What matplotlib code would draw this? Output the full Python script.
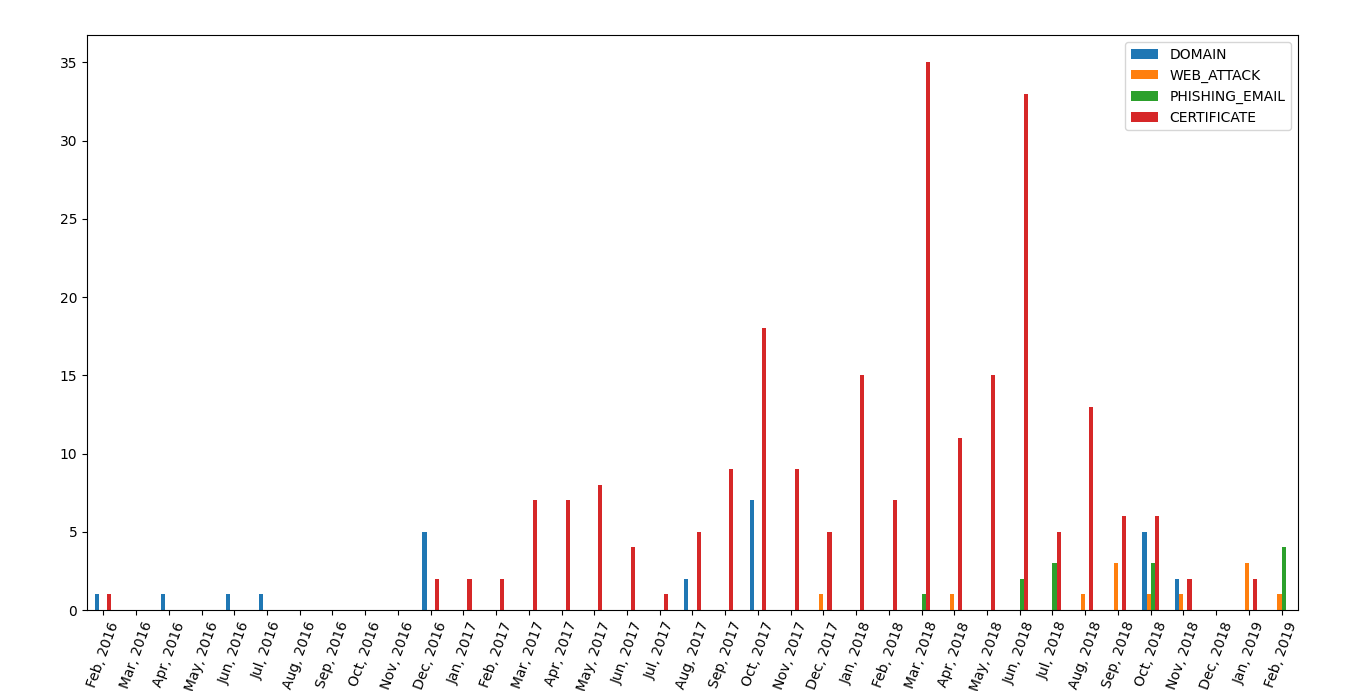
import numpy as np
import pandas as pd
import matplotlib
matplotlib.use("Agg")
import matplotlib.pyplot as plt

months = ["Feb, 2016", "Mar, 2016", "Apr, 2016", "May, 2016", "Jun, 2016", "Jul, 2016",
          "Aug, 2016", "Sep, 2016", "Oct, 2016", "Nov, 2016", "Dec, 2016",
          "Jan, 2017", "Feb, 2017", "Mar, 2017", "Apr, 2017", "May, 2017", "Jun, 2017",
          "Jul, 2017", "Aug, 2017", "Sep, 2017", "Oct, 2017", "Nov, 2017", "Dec, 2017",
          "Jan, 2018", "Feb, 2018", "Mar, 2018", "Apr, 2018", "May, 2018", "Jun, 2018",
          "Jul, 2018", "Aug, 2018", "Sep, 2018", "Oct, 2018", "Nov, 2018", "Dec, 2018",
          "Jan, 2019", "Feb, 2019"]

domain = [1, 0, 1, 0, 1, 1, 0, 0, 0, 0, 5,
          0, 0, 0, 0, 0, 0, 0, 2, 0, 7, 0, 0,
          0, 0, 0, 0, 0, 0, 0, 0, 0, 5, 2, 0,
          0, 0]
web_attack = [0, 0, 0, 0, 0, 0, 0, 0, 0, 0, 0,
              0, 0, 0, 0, 0, 0, 0, 0, 0, 0, 0, 1,
              0, 0, 0, 1, 0, 0, 0, 1, 3, 1, 1, 0,
              3, 1]
phishing_email = [0, 0, 0, 0, 0, 0, 0, 0, 0, 0, 0,
                  0, 0, 0, 0, 0, 0, 0, 0, 0, 0, 0, 0,
                  0, 0, 1, 0, 0, 2, 3, 0, 0, 3, 0, 0,
                  0, 4]
certificate = [1, 0, 0, 0, 0, 0, 0, 0, 0, 0, 2,
               2, 2, 7, 7, 8, 4, 1, 5, 9, 18, 9, 5,
               15, 7, 35, 11, 15, 33, 5, 13, 6, 6, 2, 0,
               2, 0]

df = pd.DataFrame({"DOMAIN": domain,
                   "WEB_ATTACK": web_attack,
                   "PHISHING_EMAIL": phishing_email,
                   "CERTIFICATE": certificate}, index=months)

fig = plt.figure(figsize=(13.46, 6.91), dpi=100)
ax = fig.add_axes([0.0646, 0.1172, 0.8997, 0.8321])
df.plot(kind="bar", ax=ax, rot=70)
ax.legend(loc="upper right")

fig.savefig("out.png", dpi=100)
